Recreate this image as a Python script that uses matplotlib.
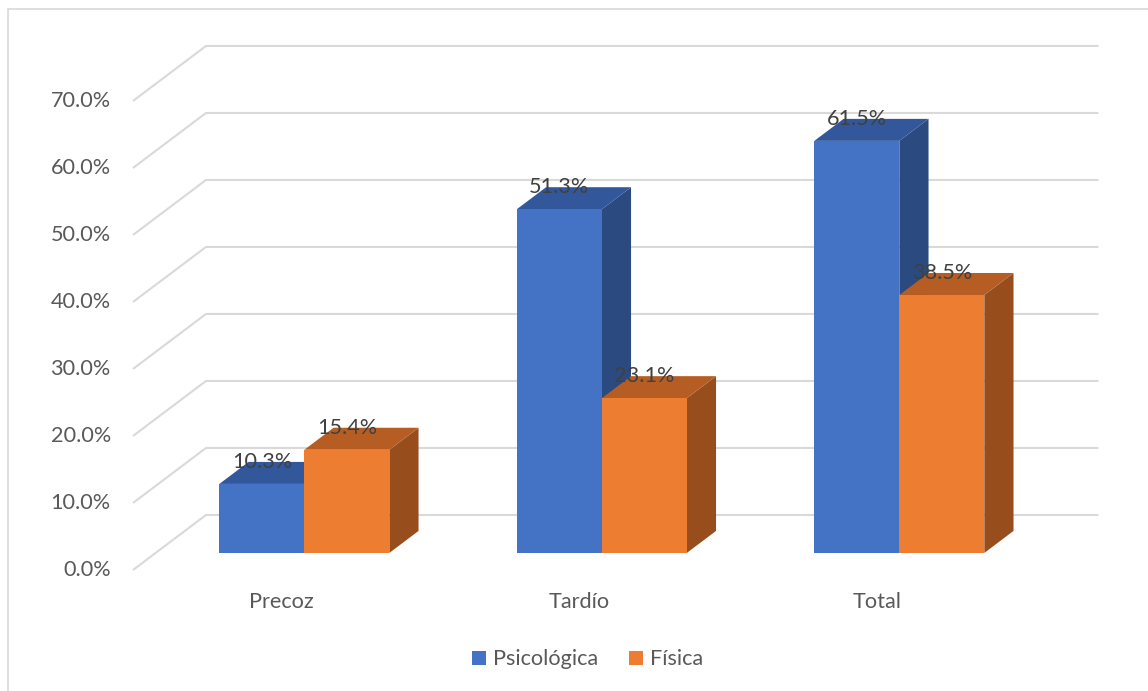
import matplotlib.pyplot as plt
from matplotlib.patches import Polygon, Rectangle, Patch

# data
categorias = ["Precoz", "Tardío", "Total"]
psicologica = [10.3, 51.3, 61.5]
fisica = [15.4, 23.1, 38.5]
series_nombres = ["Psicológica", "Física"]
y_ticks = [0, 10, 20, 30, 40, 50, 60, 70]

# colores: frente, tapa, lateral
colores = {
    "Psicológica": ("#4472C4", "#32579A", "#2B4A80"),
    "Física": ("#ED7D31", "#B55D22", "#984E1C"),
}

plt.rcParams['font.family'] = ['Lato', 'DejaVu Sans']
FS = 15.6

# geometria del efecto 3D (en unidades de datos)
DX = 0.2454          # desplazamiento horizontal de la pared del fondo
DY = 8.21            # desplazamiento vertical de la pared del fondo
Z0, Z1 = 0.31, 0.71  # profundidad de las barras (fraccion)
ANCHO = 0.2857       # ancho de cada barra

fig = plt.figure(figsize=(11.48, 6.91), dpi=100)
ax = fig.add_axes([0, 0, 1, 1])
ax.set_xlim(-0.947, 2.912)
ax.set_ylim(-18.06, 85.07)
ax.axis('off')

GRID = "#D9D9D9"
TXT = "#595959"

# lineas de la cuadricula: pared lateral + pared del fondo
n = len(categorias)
for v in y_ticks:
    ax.plot([-0.5, -0.5 + DX, n - 0.5 + DX], [v, v + DY, v + DY],
            color=GRID, lw=1.5, zorder=1, solid_capstyle='butt')
    ax.annotate(f"{v:.1f}%", (-0.5, v), xytext=(-16, 0), textcoords='offset points',
                ha='right', va='center', fontsize=FS, color=TXT)


def barra(x0, valor, front, top, side):
    x1 = x0 + ANCHO
    ox0, oy0 = DX * Z0, DY * Z0
    ox1, oy1 = DX * Z1, DY * Z1
    # cara lateral
    ax.add_patch(Polygon([(x1 + ox0, oy0), (x1 + ox1, oy1), (x1 + ox1, valor + oy1),
                          (x1 + ox0, valor + oy0)], closed=True, fc=side, ec='none', zorder=2))
    # tapa
    ax.add_patch(Polygon([(x0 + ox0, valor + oy0), (x1 + ox0, valor + oy0),
                          (x1 + ox1, valor + oy1), (x0 + ox1, valor + oy1)],
                         closed=True, fc=top, ec='none', zorder=2))
    # frente
    ax.add_patch(Rectangle((x0 + ox0, oy0), ANCHO, valor, fc=front, ec='none', zorder=2))
    return x0 + ox0 + ANCHO / 2, valor + oy0


etiquetas = []
for i, cat in enumerate(categorias):
    for j, (nombre, vals) in enumerate(zip(series_nombres, [psicologica, fisica])):
        x0 = i - ANCHO + j * ANCHO
        cx, cy = barra(x0, vals[i], *colores[nombre])
        etiquetas.append((cx, cy, vals[i]))
    ax.annotate(cat, (i, 0), xytext=(0, -23), textcoords='offset points',
                ha='center', va='center', fontsize=FS, color=TXT)

for cx, cy, v in etiquetas:
    ax.annotate(f"{v:.1f}%", (cx, cy), xytext=(0, 16), textcoords='offset points',
                ha='center', va='center', fontsize=FS, color="#404040", zorder=5)

# leyenda
handles = [Patch(fc=colores[s][0], ec='none') for s in series_nombres]
fig.legend(handles, series_nombres, loc='center', bbox_to_anchor=(0.512, 0.046),
           ncol=2, frameon=False, fontsize=FS, labelcolor=TXT,
           handlelength=0.63, handleheight=0.63, handletextpad=0.35, columnspacing=1.4)

# borde del grafico
fig.patches.append(Rectangle((8 / 1148, -0.1), 1.2, 1.1 - 9 / 691, transform=fig.transFigure,
                             fill=False, ec=GRID, lw=1.2, clip_on=False))

fig.savefig("out.png", dpi=100)
